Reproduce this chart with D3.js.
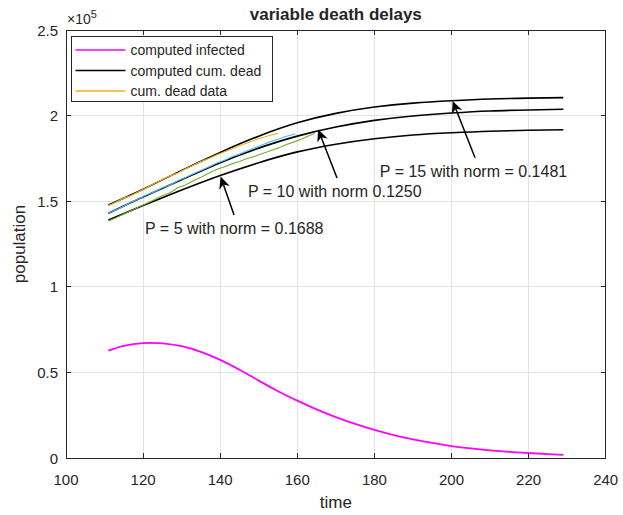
<!DOCTYPE html>
<html>
<head>
<meta charset="utf-8">
<script src="https://cdn.jsdelivr.net/npm/d3@7"></script>
<style>
  html, body { margin: 0; padding: 0; background: #fff; }
  svg { display: block; }
  text { font-family: "Liberation Sans", Arial, Helvetica, sans-serif; fill: #262626; }
</style>
</head>
<body>
<svg id="chart" width="623" height="515"></svg>
<script>
// ---------------- data ----------------
const xTicks = [100, 120, 140, 160, 180, 200, 220, 240];
const yTicks = [0, 50000, 100000, 150000, 200000, 250000];
const yTickLabels = ["0", "0.5", "1", "1.5", "2", "2.5"];

const timeModel = [111, 120, 130, 140, 150, 160, 170, 180, 190, 200, 210, 220, 229];
const deadP15 = [147800, 157000, 168000, 178500, 188000, 195800, 201300, 205000, 207300, 208700, 209700, 210200, 210500];
const deadP10 = [143000, 152500, 162500, 172500, 181000, 188000, 193300, 197200, 199800, 201500, 202700, 203300, 203700];
const deadP5  = [139000, 147500, 156500, 165000, 172500, 178800, 183300, 186500, 188700, 190000, 190900, 191400, 191700];

const timeInfected = [111, 115, 120, 125, 130, 135, 140, 145, 150, 155, 160, 165, 170, 175, 180, 185, 190, 195, 200, 205, 210, 215, 220, 225, 229];
const infected = [62700, 65500, 67100, 67000, 65300, 62000, 57300, 51500, 45200, 39000, 33500, 28400, 23900, 19900, 16400, 13400, 10900, 8800, 7000, 5600, 4500, 3600, 2900, 2300, 1800];

const timeDataA = [111, 113, 115, 117, 119, 121, 123, 125, 127, 129, 131, 133, 135, 137, 139, 141, 143, 145, 147, 149, 151, 153, 155];
const deadDataA = [147500, 149500, 151800, 153500, 155800, 158000, 160500, 162500, 164800, 166500, 169000, 171000, 173200, 175000, 177000, 178800, 180500, 182500, 184000, 185800, 187200, 188500, 189600];

const timeDataB = [111, 113, 115, 117, 119, 121, 123, 125, 127, 129, 131, 133, 135, 137, 139, 141, 143, 145, 147, 149, 151, 153, 155, 157, 159.5];
const deadDataB = [143000, 145000, 147000, 149500, 151500, 153800, 155500, 157800, 159500, 162000, 163800, 166000, 168000, 170000, 172200, 173800, 176000, 177500, 179500, 181200, 183000, 184800, 186200, 187800, 189200];

const timeDataC = [111, 113, 115, 117, 119, 121, 123, 125, 127, 129, 131, 133, 135, 137, 139, 141, 143, 145, 147, 149, 151, 153, 155, 157, 159, 161, 163, 164.5];
const deadDataC = [138500, 140300, 142500, 144500, 146800, 148800, 151000, 153200, 155000, 157800, 159500, 162000, 164000, 166300, 168500, 170000, 171800, 173200, 175000, 176200, 177800, 179500, 181000, 183000, 184500, 186200, 188200, 189500];

const legendLabels = ["computed infected", "computed cum. dead", "cum. dead data"];
const legendColors = ["#FF00FF", "#000000", "#EDB120"];

// annotations: text anchor (time, value), arrow tail and tip (time, value)
const annoText = ["P = 15 with norm = 0.1481", "P = 10 with norm 0.1250", "P = 5 with norm = 0.1688"];
const annoTextPos = [[181.4, 164400], [147.2, 152700], [120.5, 130800]];
const annoTail = [[206.1, 175400], [170.3, 163600], [143.6, 141900]];
const annoTip  = [[200.3, 208600], [165.4, 192000], [140.1, 164400]];

// ---------------- layout ----------------
const svg = d3.select("#chart");
const L = 66, R = 605.7, T = 30, B = 458;
const x = d3.scaleLinear().domain([100, 240]).range([L, R]);
const y = d3.scaleLinear().domain([0, 250000]).range([B, T]);
const axisColor = "#262626";

// grid
const grid = svg.append("g");
grid.selectAll("line.gx").data(xTicks).join("line")
  .attr("x1", d => x(d)).attr("x2", d => x(d)).attr("y1", T).attr("y2", B)
  .attr("stroke", "#e3e3e3").attr("stroke-width", 1).attr("shape-rendering", "crispEdges");
grid.selectAll("line.gy").data(yTicks).join("line")
  .attr("y1", d => y(d)).attr("y2", d => y(d)).attr("x1", L).attr("x2", R)
  .attr("stroke", "#e3e3e3").attr("stroke-width", 1).attr("shape-rendering", "crispEdges");

// lines
const line = (xs, ys, c) => d3.line().x((d, i) => x(xs[i])).y((d, i) => y(ys[i])).curve(c)(ys);
const plot = svg.append("g");
[deadP15, deadP10, deadP5].forEach(s => {
  plot.append("path").attr("d", line(timeModel, s, d3.curveNatural)).attr("fill", "none")
    .attr("stroke", "#000").attr("stroke-width", 1.6);
});
plot.append("path").attr("d", line(timeDataC, deadDataC, d3.curveLinear)).attr("fill", "none").attr("stroke", "#77AC30").attr("stroke-width", 1.1);
plot.append("path").attr("d", line(timeDataB, deadDataB, d3.curveLinear)).attr("fill", "none").attr("stroke", "#4DBEEE").attr("stroke-width", 1.1);
plot.append("path").attr("d", line(timeDataA, deadDataA, d3.curveLinear)).attr("fill", "none").attr("stroke", "#EDB120").attr("stroke-width", 1.1);
plot.append("path").attr("d", line(timeInfected, infected, d3.curveNatural)).attr("fill", "none")
  .attr("stroke", "#FF00FF").attr("stroke-width", 1.8);

// axes box + ticks
const ax = svg.append("g");
ax.append("rect").attr("x", L).attr("y", T).attr("width", R - L).attr("height", B - T)
  .attr("fill", "none").attr("stroke", axisColor).attr("stroke-width", 1).attr("shape-rendering", "crispEdges");
const tl = 5;
xTicks.forEach(t => {
  ax.append("line").attr("x1", x(t)).attr("x2", x(t)).attr("y1", B).attr("y2", B - tl).attr("stroke", axisColor).attr("shape-rendering", "crispEdges");
  ax.append("line").attr("x1", x(t)).attr("x2", x(t)).attr("y1", T).attr("y2", T + tl).attr("stroke", axisColor).attr("shape-rendering", "crispEdges");
  ax.append("text").attr("x", x(t)).attr("y", B + 27).attr("text-anchor", "middle").attr("font-size", 15).text(t);
});
yTicks.forEach((t, i) => {
  ax.append("line").attr("x1", L).attr("x2", L + tl).attr("y1", y(t)).attr("y2", y(t)).attr("stroke", axisColor).attr("shape-rendering", "crispEdges");
  ax.append("line").attr("x1", R).attr("x2", R - tl).attr("y1", y(t)).attr("y2", y(t)).attr("stroke", axisColor).attr("shape-rendering", "crispEdges");
  ax.append("text").attr("x", L - 8).attr("y", y(t) + 5.5).attr("text-anchor", "end").attr("font-size", 15).text(yTickLabels[i]);
});
// exponent
const ex = ax.append("text").attr("x", L + 1).attr("y", T - 6).attr("font-size", 14);
ex.append("tspan").text("\u00d710");
ex.append("tspan").attr("font-size", 11).attr("dy", -6).text("5");

// labels
svg.append("text").attr("x", (L + R) / 2).attr("y", 508).attr("text-anchor", "middle").attr("font-size", 17).text("time");
svg.append("text").attr("transform", `translate(25,${(T + B) / 2}) rotate(-90)`).attr("text-anchor", "middle").attr("font-size", 17).text("population");
svg.append("text").attr("x", (L + R) / 2).attr("y", 20).attr("text-anchor", "middle").attr("font-size", 17).attr("font-weight", "bold").attr("fill", "#000").text("variable death delays");

// annotations
const an = svg.append("g");
annoText.forEach((s, i) => {
  an.append("text").attr("x", x(annoTextPos[i][0])).attr("y", y(annoTextPos[i][1])).attr("font-size", 16).attr("fill", "#000").text(s);
  const x0 = x(annoTail[i][0]), y0 = y(annoTail[i][1]);
  const x1 = x(annoTip[i][0]), y1 = y(annoTip[i][1]);
  const ang = Math.atan2(y1 - y0, x1 - x0);
  const hl = 12, hw = 5.5, back = 8.5;
  const ux = Math.cos(ang), uy = Math.sin(ang), px = -uy, py = ux;
  const bx = x1 - ux * hl, by = y1 - uy * hl;
  const nx = x1 - ux * back, ny = y1 - uy * back;
  an.append("line").attr("x1", x0).attr("y1", y0).attr("x2", nx).attr("y2", ny).attr("stroke", "#000").attr("stroke-width", 1.5);
  an.append("path").attr("d", `M${x1},${y1}L${bx + px * hw},${by + py * hw}L${nx},${ny}L${bx - px * hw},${by - py * hw}Z`).attr("fill", "#000");
});

// legend
const lg = svg.append("g");
const lgX = 71.5, lgY = 36.5, lgW = 201, lgH = 65;
lg.append("rect").attr("x", lgX).attr("y", lgY).attr("width", lgW).attr("height", lgH)
  .attr("fill", "#fff").attr("stroke", axisColor).attr("stroke-width", 1);
legendLabels.forEach((s, i) => {
  const cy = lgY + 13.5 + i * 20.5;
  lg.append("line").attr("x1", lgX + 4).attr("x2", lgX + 54).attr("y1", cy).attr("y2", cy).attr("stroke", legendColors[i]).attr("stroke-width", 1.3);
  lg.append("text").attr("x", lgX + 59).attr("y", cy + 5).attr("font-size", 14).attr("fill", "#000").text(s);
});
</script>
</body>
</html>
